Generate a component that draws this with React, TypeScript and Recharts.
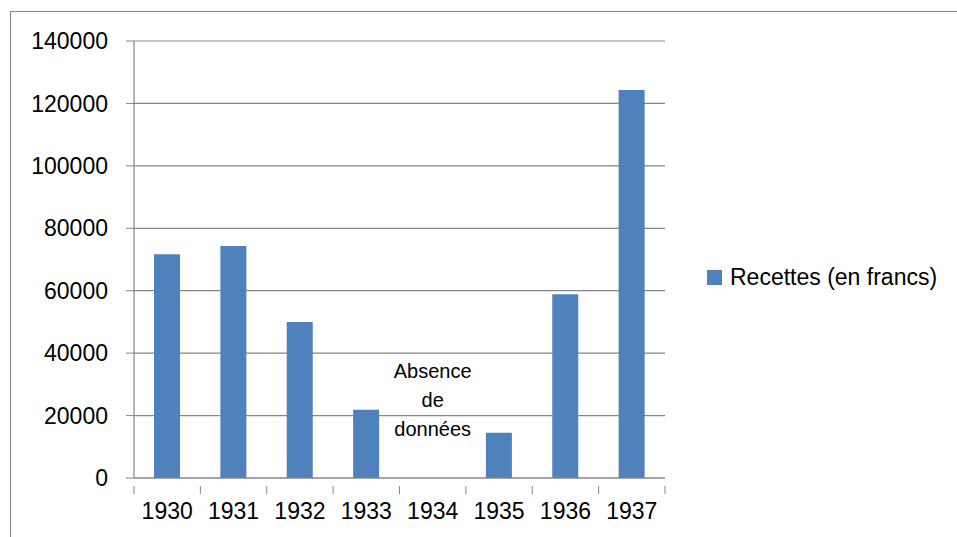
import { BarChart, Bar, XAxis, YAxis, CartesianGrid, ReferenceDot } from "recharts";

const years = ["1930", "1931", "1932", "1933", "1934", "1935", "1936", "1937"];
const recettes: (number | null)[] = [71700, 74300, 50000, 21900, null, 14500, 58900, 124300];
const yTicks = [0, 20000, 40000, 60000, 80000, 100000, 120000, 140000];
const noteLines = ["Absence", "de", "données"];
const seriesName = "Recettes (en francs)";

const data = years.map((year, i) => ({ year, recettes: recettes[i] }));

const AXIS = "#868686";
const BLUE = "#4F81BD";
const FONT = "'Liberation Sans', Arial, sans-serif";

// tick label at band centre, tick mark at band edges (Excel style)
function YearTick(props: any) {
  const { x, y, payload, index } = props;
  const half = payload.offset ?? 0;
  const axisY = y - 17;
  const last = index === years.length - 1;
  return (
    <g>
      <line x1={x - half} x2={x - half} y1={axisY} y2={axisY + 8} stroke={AXIS} />
      {last && <line x1={x + half} x2={x + half} y1={axisY} y2={axisY + 8} stroke={AXIS} />}
      <text x={x} y={y} dy="0.71em" textAnchor="middle" fill="#000" fontSize={23} fontFamily={FONT}>
        {payload.value}
      </text>
    </g>
  );
}

function NoteLabel(props: any) {
  const { viewBox } = props;
  const cx = viewBox.x ?? viewBox.cx;
  const cy = viewBox.y ?? viewBox.cy;
  return (
    <text x={cx} y={cy} textAnchor="middle" fontSize={20} fontFamily={FONT} fill="#000">
      {noteLines.map((l, i) => (
        <tspan key={l} x={cx} y={cy + (i - 1) * 29} dy="0.35em">
          {l}
        </tspan>
      ))}
    </text>
  );
}

export default function App() {
  return (
    <div style={{ position: "absolute", left: 0, top: 0, width: 957, height: 537, overflow: "hidden", background: "#fff" }}>
      <div
        style={{
          position: "absolute",
          left: 10,
          top: 11,
          width: 1100,
          height: 700,
          borderLeft: `1.5px solid ${AXIS}`,
          borderTop: `1.5px solid ${AXIS}`,
        }}
      />
      <div style={{ position: "absolute", left: 0, top: 0 }}>
        <BarChart
          width={957}
          height={537}
          data={data}
          margin={{ top: 41, right: 292, bottom: 0, left: 0 }}
        >
          <CartesianGrid vertical={false} stroke={AXIS} strokeWidth={1.2} />
          <XAxis
            dataKey="year"
            height={59}
            axisLine={{ stroke: AXIS, strokeWidth: 1.2 }}
            tickLine={false}
            tickSize={8}
            tickMargin={17}
            interval={0}
            tick={<YearTick />}
          />
          <YAxis
            width={134}
            domain={[0, 140000]}
            ticks={yTicks}
            interval={0}
            axisLine={{ stroke: AXIS, strokeWidth: 1.2 }}
            tickLine={{ stroke: AXIS }}
            tickSize={8}
            tickMargin={18}
            tick={{ fill: "#000", fontSize: 23, fontFamily: FONT }}
          />
          <ReferenceDot x="1934" y={24900} r={0} stroke="none" fill="none" label={<NoteLabel />} />
          <Bar dataKey="recettes" name={seriesName} fill={BLUE} barSize={26} isAnimationActive={false} />
        </BarChart>
      </div>
      <div
        style={{
          position: "absolute",
          left: 707,
          top: 264,
          display: "flex",
          alignItems: "center",
          fontFamily: FONT,
          fontSize: 23,
          color: "#000",
          whiteSpace: "nowrap",
        }}
      >
        <span style={{ width: 15, height: 15, background: BLUE, marginRight: 8, display: "inline-block" }} />
        {seriesName}
      </div>
    </div>
  );
}
